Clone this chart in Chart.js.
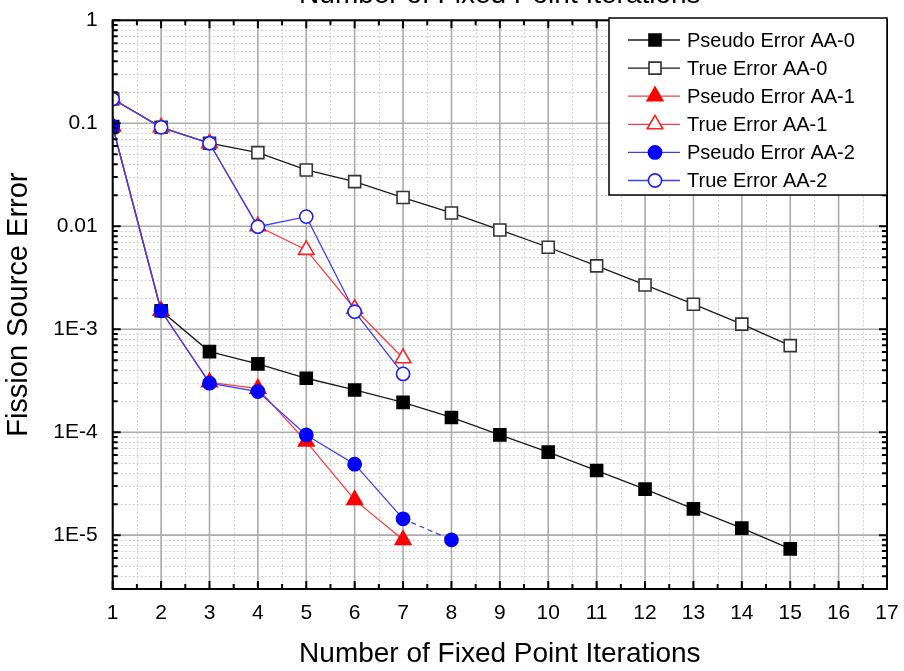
<!DOCTYPE html>
<html>
<head>
<meta charset="utf-8">
<script src="https://cdn.jsdelivr.net/npm/chart.js@4.4.1/dist/chart.umd.min.js"></script>
<style>
  html, body { margin: 0; padding: 0; background: #ffffff; }
  #wrap { width: 904px; height: 671px; }
</style>
</head>
<body>
<div id="wrap"><canvas id="c" width="904" height="671"></canvas></div>
<script>
// Fixed point iteration numbers for each run
const iterAA0 = [1, 2, 3, 4, 5, 6, 7, 8, 9, 10, 11, 12, 13, 14, 15];
const iterAA1 = [1, 2, 3, 4, 5, 6, 7];
const iterAA2Pseudo = [1, 2, 3, 4, 5, 6, 7, 8];
const iterAA2True = [1, 2, 3, 4, 5, 6, 7];

// Fission source error per iteration
const pseudoAA0 = [0.093, 0.00151, 0.000606, 0.000461, 0.000334, 0.000257, 0.000195, 0.000139,
                   0.0000942, 0.000064, 0.0000424, 0.000028, 0.000018, 0.0000117, 0.00000736];
const trueAA0 = [0.172, 0.0914, 0.064, 0.0519, 0.0352, 0.0271, 0.019, 0.01346,
                 0.0092, 0.00625, 0.00412, 0.00269, 0.00175, 0.00112, 0.000693];
const pseudoAA1 = [0.093, 0.00151, 0.000305, 0.000265, 0.0000811, 0.000022, 0.000009];
const trueAA1 = [0.172, 0.0914, 0.064, 0.01, 0.00589, 0.00158, 0.000523];
const pseudoAA2 = [0.093, 0.00151, 0.000299, 0.000248, 0.000094, 0.0000489, 0.0000144, 0.000009];
const trueAA2 = [0.172, 0.0914, 0.064, 0.0099, 0.0124, 0.00148, 0.000368];

// Axis ticks
const xTicks = [1, 2, 3, 4, 5, 6, 7, 8, 9, 10, 11, 12, 13, 14, 15, 16, 17];
const yTickValues = [1, 0.1, 0.01, 0.001, 0.0001, 0.00001];
const yTickLabels = ['1', '0.1', '0.01', '1E-3', '1E-4', '1E-5'];

const seriesNames = ['Pseudo Error AA-0', 'True Error AA-0', 'Pseudo Error AA-1',
                     'True Error AA-1', 'Pseudo Error AA-2', 'True Error AA-2'];

const FONT = "'Liberation Sans', Arial, sans-serif";
const toPoints = (xs, ys) => xs.map((x, i) => ({ x: x, y: ys[i] }));

const styles = [
  { line: '#1a1a1a', marker: '#000000', fill: '#000000', shape: 'rect', r: 8.5, order: 4 },
  { line: '#1a1a1a', marker: '#333333', fill: '#ffffff', shape: 'rect', r: 8.5, order: 5 },
  { line: '#ff3c3c', marker: '#ff0000', fill: '#ff0000', shape: 'triangle', r: 9, order: 2 },
  { line: '#ff3c3c', marker: '#ff2020', fill: '#ffffff', shape: 'triangle', r: 9, order: 3 },
  { line: '#3c3cff', marker: '#0000ff', fill: '#0000ff', shape: 'circle', r: 6.6, order: 0 },
  { line: '#3c3cff', marker: '#2020ff', fill: '#ffffff', shape: 'circle', r: 6.6, order: 1 }
];
const seriesData = [
  toPoints(iterAA0, pseudoAA0), toPoints(iterAA0, trueAA0),
  toPoints(iterAA1, pseudoAA1), toPoints(iterAA1, trueAA1),
  toPoints(iterAA2Pseudo, pseudoAA2), toPoints(iterAA2True, trueAA2)
];

const datasets = seriesNames.map((name, i) => {
  const s = styles[i];
  const ds = {
    label: name,
    data: seriesData[i],
    borderColor: s.line,
    borderWidth: 1.3,
    pointStyle: s.shape,
    pointRadius: s.r,
    pointHoverRadius: s.r,
    pointBackgroundColor: s.fill,
    pointBorderColor: s.marker,
    pointBorderWidth: 1.6,
    fill: false,
    tension: 0,
    clip: 0,
    order: s.order
  };
  if (i === 4) {
    // last AA-2 pseudo error step is drawn dashed
    ds.segment = { borderDash: ctx => ctx.p1DataIndex === 7 ? [5, 4] : undefined };
  }
  return ds;
});

// shape drawing shared by the legend
function drawShape(ctx, shape, r, x, y) {
  ctx.beginPath();
  if (shape === 'rect') {
    const h = Math.SQRT1_2 * r;
    ctx.rect(x - h, y - h, 2 * h, 2 * h);
  } else if (shape === 'triangle') {
    let a = 0;
    ctx.moveTo(x + Math.sin(a) * r, y - Math.cos(a) * r);
    a += 2 * Math.PI / 3;
    ctx.lineTo(x + Math.sin(a) * r, y - Math.cos(a) * r);
    a += 2 * Math.PI / 3;
    ctx.lineTo(x + Math.sin(a) * r, y - Math.cos(a) * r);
    ctx.closePath();
  } else {
    ctx.arc(x, y, r, 0, Math.PI * 2);
  }
  ctx.fill();
  ctx.stroke();
}

const framePlugin = {
  id: 'frameGrid',
  beforeDatasetsDraw(chart) {
    const { ctx, chartArea: a, scales } = chart;
    const xs = scales.x, ys = scales.y;
    ctx.save();
    // minor dotted grid
    ctx.strokeStyle = '#cfcfcf';
    ctx.lineWidth = 1;
    ctx.setLineDash([2, 2]);
    for (let v = 1.5; v < 17; v += 1) {
      const px = Math.round(xs.getPixelForValue(v)) + 0.5;
      ctx.beginPath(); ctx.moveTo(px, a.top); ctx.lineTo(px, a.bottom); ctx.stroke();
    }
    for (let e = -6; e <= 0; e++) {
      for (let m = 2; m <= 9; m++) {
        const v = m * Math.pow(10, e);
        if (v < ys.min || v > ys.max) continue;
        const py = Math.round(ys.getPixelForValue(v)) + 0.5;
        ctx.beginPath(); ctx.moveTo(a.left, py); ctx.lineTo(a.right, py); ctx.stroke();
      }
    }
    // major solid grid
    ctx.setLineDash([]);
    ctx.strokeStyle = '#ababab';
    ctx.lineWidth = 1.6;
    xTicks.forEach(v => {
      const px = xs.getPixelForValue(v);
      ctx.beginPath(); ctx.moveTo(px, a.top); ctx.lineTo(px, a.bottom); ctx.stroke();
    });
    yTickValues.forEach(v => {
      const py = ys.getPixelForValue(v);
      ctx.beginPath(); ctx.moveTo(a.left, py); ctx.lineTo(a.right, py); ctx.stroke();
    });
    ctx.restore();
  },
  afterDatasetsDraw(chart) {
    const { ctx, chartArea: a, scales } = chart;
    const xs = scales.x, ys = scales.y;
    ctx.save();
    ctx.strokeStyle = '#000000';
    ctx.lineWidth = 2;
    ctx.setLineDash([]);
    // inward tick marks on all four sides
    const majorLen = 8, minorLen = 5;
    ctx.beginPath();
    for (let v = 1; v <= 17; v += 0.5) {
      const px = xs.getPixelForValue(v);
      const len = Number.isInteger(v) ? majorLen : minorLen;
      ctx.moveTo(px, a.bottom); ctx.lineTo(px, a.bottom - len);
      ctx.moveTo(px, a.top); ctx.lineTo(px, a.top + len);
    }
    for (let e = -6; e <= 0; e++) {
      for (let m = 1; m <= 9; m++) {
        const v = m * Math.pow(10, e);
        if (v < ys.min || v > ys.max) continue;
        const py = ys.getPixelForValue(v);
        const len = m === 1 ? majorLen : minorLen;
        ctx.moveTo(a.left, py); ctx.lineTo(a.left + len, py);
        ctx.moveTo(a.right, py); ctx.lineTo(a.right - len, py);
      }
    }
    ctx.stroke();
    // plot frame
    ctx.strokeRect(a.left, a.top, a.right - a.left, a.bottom - a.top);

    // legend box
    const bx = 609, by = 18, bw = a.right - 609, bh = 177;
    ctx.fillStyle = '#ffffff';
    ctx.fillRect(bx, by, bw, bh);
    ctx.lineWidth = 1.5;
    ctx.strokeStyle = '#000000';
    ctx.strokeRect(bx, by, bw, bh);
    ctx.font = '20px ' + FONT;
    ctx.textBaseline = 'middle';
    ctx.textAlign = 'left';
    seriesNames.forEach((name, i) => {
      const s = styles[i];
      const cy = 40 + i * 28.1;
      ctx.strokeStyle = s.line;
      ctx.lineWidth = 1.3;
      ctx.beginPath(); ctx.moveTo(628, cy); ctx.lineTo(680, cy); ctx.stroke();
      ctx.fillStyle = s.fill;
      ctx.strokeStyle = s.marker;
      ctx.lineWidth = 1.6;
      drawShape(ctx, s.shape, s.r, 655, cy);
      ctx.fillStyle = '#000000';
      ctx.fillText(name, 687, cy + 1);
    });

    // caption running off the top edge
    ctx.font = '28px ' + FONT;
    ctx.textAlign = 'center';
    ctx.textBaseline = 'alphabetic';
    ctx.fillStyle = '#000000';
    ctx.fillText('Number of Fixed Point Iterations', (a.left + a.right) / 2, 3);
    ctx.restore();
  }
};

new Chart(document.getElementById('c'), {
  type: 'line',
  data: { datasets: datasets },
  options: {
    responsive: false,
    animation: false,
    devicePixelRatio: 1,
    layout: { padding: { top: 20.3, right: 17, left: 0, bottom: 0 } },
    plugins: { legend: { display: false }, tooltip: { enabled: false } },
    scales: {
      x: {
        type: 'linear',
        min: 1,
        max: 17,
        afterBuildTicks: s => { s.ticks = xTicks.map(v => ({ value: v })); },
        afterFit: s => { s.height = 82; s.paddingLeft = 0; s.paddingRight = 0; },
        grid: { display: false, drawTicks: false },
        border: { display: false },
        ticks: {
          color: '#000000',
          padding: 12,
          maxRotation: 0,
          autoSkip: false,
          font: { family: FONT, size: 21 },
          callback: v => String(v)
        },
        title: {
          display: true,
          text: 'Number of Fixed Point Iterations',
          color: '#000000',
          padding: { top: 0, bottom: 0 },
          font: { family: FONT, size: 28 }
        }
      },
      y: {
        type: 'logarithmic',
        min: 3e-6,
        max: 1,
        afterBuildTicks: s => { s.ticks = yTickValues.map(v => ({ value: v })); },
        afterFit: s => { s.width = 112.7; s.paddingTop = 0; s.paddingBottom = 0; },
        grid: { display: false, drawTicks: false },
        border: { display: false },
        ticks: {
          color: '#000000',
          padding: 15,
          autoSkip: false,
          font: { family: FONT, size: 21 },
          callback: v => {
            const k = yTickValues.findIndex(t => Math.abs(Math.log10(t) - Math.log10(v)) < 1e-6);
            return k >= 0 ? yTickLabels[k] : '';
          }
        },
        title: {
          display: true,
          text: 'Fission Source Error',
          color: '#000000',
          padding: { top: 2, bottom: 0 },
          font: { family: FONT, size: 29 }
        }
      }
    }
  },
  plugins: [framePlugin]
});
</script>
</body>
</html>
